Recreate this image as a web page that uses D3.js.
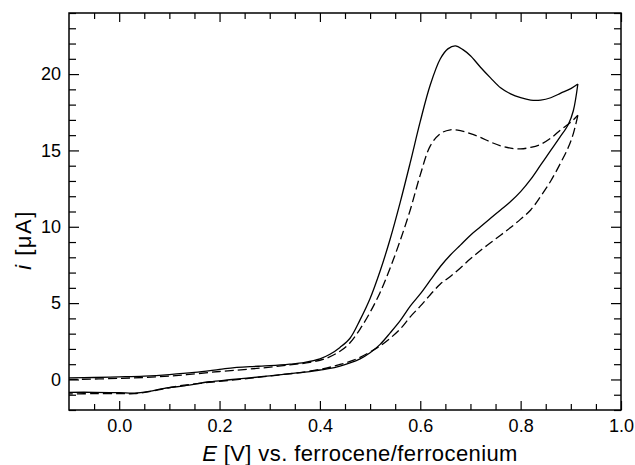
<!DOCTYPE html>
<html>
<head>
<meta charset="utf-8">
<script src="https://cdn.jsdelivr.net/npm/d3@7"></script>
<style>
html,body{margin:0;padding:0;background:#fff;}
text{font-family:"Liberation Sans",Arial,Helvetica,sans-serif;fill:#000;}
</style>
</head>
<body>
<svg id="chart" width="635" height="465"></svg>
<script>
// ---- Data (E in V vs Fc/Fc+, i in µA) ----
const solidForwardE = [-0.1,-0.05,0.0,0.05,0.1,0.15,0.2,0.23,0.26,0.3,0.34,0.37,0.40,0.42,0.44,0.46,0.48,0.50,0.52,0.54,0.56,0.58,0.60,0.62,0.64,0.655,0.67,0.685,0.70,0.72,0.74,0.76,0.78,0.80,0.82,0.84,0.86,0.88,0.90,0.914];
const solidForwardI = [0.1,0.13,0.17,0.22,0.32,0.46,0.66,0.78,0.84,0.9,1.0,1.12,1.35,1.65,2.1,2.7,3.9,5.3,7.1,9.2,11.6,14.2,16.9,19.3,21.0,21.65,21.85,21.6,21.2,20.45,19.75,19.1,18.7,18.45,18.3,18.3,18.45,18.75,19.05,19.35];
const solidReverseE = [0.914,0.905,0.895,0.878,0.86,0.84,0.82,0.80,0.78,0.76,0.74,0.72,0.70,0.68,0.66,0.64,0.62,0.60,0.58,0.56,0.54,0.52,0.50,0.48,0.46,0.44,0.42,0.40,0.38,0.34,0.30,0.26,0.22,0.18,0.13,0.09,0.06,0.03,0.0,-0.05,-0.1];
const solidReverseI = [19.35,17.6,16.7,15.85,15.0,14.05,13.1,12.3,11.65,11.1,10.55,10.0,9.45,8.8,8.15,7.4,6.5,5.6,4.8,3.85,3.05,2.3,1.75,1.35,1.08,0.88,0.72,0.62,0.52,0.38,0.24,0.1,-0.02,-0.15,-0.42,-0.58,-0.78,-0.9,-0.86,-0.84,-0.84];
const dashedForwardE = [-0.1,0.0,0.1,0.2,0.28,0.34,0.38,0.41,0.44,0.46,0.48,0.50,0.52,0.54,0.56,0.58,0.60,0.62,0.64,0.66,0.68,0.70,0.72,0.74,0.76,0.78,0.80,0.82,0.84,0.86,0.88,0.90,0.914];
const dashedForwardI = [0.0,0.07,0.22,0.52,0.74,0.95,1.12,1.35,1.85,2.4,3.3,4.4,5.7,7.3,9.1,11.1,13.4,15.3,16.1,16.35,16.3,16.1,15.85,15.55,15.3,15.15,15.1,15.2,15.4,15.8,16.35,16.85,17.3];
const dashedReverseE = [0.914,0.905,0.895,0.88,0.86,0.84,0.82,0.80,0.78,0.76,0.74,0.72,0.70,0.68,0.66,0.64,0.62,0.60,0.58,0.56,0.54,0.52,0.50,0.48,0.46,0.44,0.42,0.40,0.36,0.32,0.28,0.24,0.20,0.16,0.12,0.09,0.06,0.03,0.0,-0.05,-0.1];
const dashedReverseI = [17.3,16.1,15.2,14.2,13.0,12.0,11.1,10.5,9.95,9.45,8.95,8.45,7.9,7.3,6.75,6.25,5.55,4.8,4.1,3.3,2.7,2.2,1.8,1.45,1.18,0.98,0.8,0.66,0.45,0.3,0.15,0.0,-0.12,-0.26,-0.42,-0.6,-0.8,-0.93,-0.92,-0.93,-0.95];

const xMajorTicks = [0.0,0.2,0.4,0.6,0.8,1.0];
const xTickLabels = ["0.0","0.2","0.4","0.6","0.8","1.0"];
const yMajorTicks = [0,5,10,15,20];
const yTickLabels = ["0","5","10","15","20"];

// ---- Layout ----
const svg = d3.select("#chart");
const L = 69, R = 621, T = 13, B = 410;
const x = d3.scaleLinear().domain([-0.1,1.0]).range([L,R]);
const y = d3.scaleLinear().domain([-2,24]).range([B,T]);

const xMinor = d3.range(-0.05,1.0001,0.05).map(v=>+v.toFixed(2)).filter(v=>!xMajorTicks.some(m=>Math.abs(m-v)<1e-6));
const yMinor = d3.range(-2,24.001,1).filter(v=>v%5!==0);

svg.append("defs").append("clipPath").attr("id","clip")
  .append("rect").attr("x",L).attr("y",T).attr("width",R-L).attr("height",B-T);

function styleAxis(g){ g.select(".domain").remove(); g.selectAll("line").attr("stroke","#000").attr("stroke-width",1.2); g.selectAll("text").style("font-size","18px").attr("fill","#000"); }

// bottom
svg.append("g").attr("transform",`translate(0,${B})`)
  .call(d3.axisBottom(x).tickValues(xMajorTicks).tickFormat((d,i)=>xTickLabels[i]).tickSize(-9).tickPadding(9)).call(styleAxis)
  .selectAll("text").attr("dy","0.71em");
svg.append("g").attr("transform",`translate(0,${B})`)
  .call(d3.axisBottom(x).tickValues(xMinor).tickFormat("").tickSize(-6)).call(styleAxis);
// top
svg.append("g").attr("transform",`translate(0,${T})`)
  .call(d3.axisTop(x).tickValues(xMajorTicks).tickFormat("").tickSize(-9)).call(styleAxis);
svg.append("g").attr("transform",`translate(0,${T})`)
  .call(d3.axisTop(x).tickValues(xMinor).tickFormat("").tickSize(-6)).call(styleAxis);
// left
svg.append("g").attr("transform",`translate(${L},0)`)
  .call(d3.axisLeft(y).tickValues(yMajorTicks).tickFormat((d,i)=>yTickLabels[i]).tickSize(-10).tickPadding(8)).call(styleAxis);
svg.append("g").attr("transform",`translate(${L},0)`)
  .call(d3.axisLeft(y).tickValues(yMinor).tickFormat("").tickSize(-7)).call(styleAxis);
// right
svg.append("g").attr("transform",`translate(${R},0)`)
  .call(d3.axisRight(y).tickValues(yMajorTicks).tickFormat("").tickSize(-10)).call(styleAxis);
svg.append("g").attr("transform",`translate(${R},0)`)
  .call(d3.axisRight(y).tickValues(yMinor).tickFormat("").tickSize(-7)).call(styleAxis);

// frame
svg.append("rect").attr("x",L).attr("y",T).attr("width",R-L).attr("height",B-T)
  .attr("fill","none").attr("stroke","#000").attr("stroke-width",1.5);

// curves (forward and reverse sweeps drawn separately so the vertex stays sharp)
const line = d3.line().x(d=>x(d[0])).y(d=>y(d[1])).curve(d3.curveCatmullRom.alpha(0.5));
const zip = (E,I)=>E.map((e,k)=>[e,I[k]]);
const plot = svg.append("g").attr("clip-path","url(#clip)");
[[solidForwardE,solidForwardI,null],[solidReverseE,solidReverseI,null],
 [dashedForwardE,dashedForwardI,"9,4"],[dashedReverseE,dashedReverseI,"9,4"]].forEach(([E,I,dash])=>{
  plot.append("path").datum(zip(E,I)).attr("d",line).attr("fill","none")
    .attr("stroke","#000").attr("stroke-width",1.3).attr("stroke-linejoin","round")
    .attr("stroke-dasharray",dash);
});

// titles
const xt = svg.append("text").attr("x",360).attr("y",461).attr("text-anchor","middle")
  .style("font-size","22px").style("letter-spacing","0.4px");
xt.append("tspan").style("font-style","italic").text("E");
xt.append("tspan").text(" [V] vs. ferrocene/ferrocenium");
const yt = svg.append("text").attr("transform","translate(31,240) rotate(-90)").attr("text-anchor","middle")
  .style("font-size","22px").style("letter-spacing","1.5px");
yt.append("tspan").style("font-style","italic").text("i");
yt.append("tspan").text(" [μA]");
</script>
</body>
</html>
